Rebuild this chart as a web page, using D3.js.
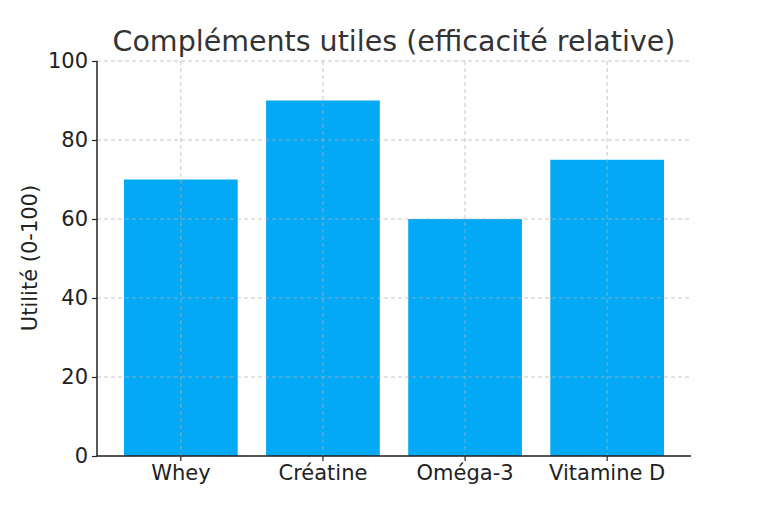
<!DOCTYPE html>
<html><head><meta charset="utf-8">
<script src="https://cdn.jsdelivr.net/npm/d3@7"></script>
<style>body{margin:0;background:#fff}svg{display:block}text{font-family:"DejaVu Sans",sans-serif}</style>
</head><body><svg id="c" width="768" height="512"></svg>
<script>
const categories = ["Whey", "Créatine", "Oméga-3", "Vitamine D"];
const values = [70, 90, 60, 75];
const yTicks = [0, 20, 40, 60, 80, 100];
const title = "Compléments utiles (efficacité relative)";
const yLabel = "Utilité (0-100)";

const svg = d3.select("#c");
const L = 97, R = 691, T = 61, B = 456;
const x = d3.scaleBand().domain(categories).range([L, R]).paddingInner(0.2).paddingOuter(0.19);
const y = d3.scaleLinear().domain([0, 100]).range([B, T]);

svg.append("g").selectAll("rect").data(values).join("rect")
  .attr("x", (d, i) => x(categories[i]))
  .attr("width", x.bandwidth())
  .attr("y", d => y(d))
  .attr("height", d => y(0) - y(d))
  .attr("fill", "#03A9F4");

const grid = svg.append("g").attr("stroke", "#b0b0b0").attr("stroke-opacity", 0.7)
  .attr("stroke-width", 1).attr("stroke-dasharray", "4,3");
grid.selectAll(".gy").data(yTicks).join("line")
  .attr("x1", L).attr("x2", R).attr("y1", d => y(d)).attr("y2", d => y(d));
grid.selectAll(".gx").data(categories).join("line")
  .attr("x1", d => x(d) + x.bandwidth() / 2).attr("x2", d => x(d) + x.bandwidth() / 2)
  .attr("y1", T).attr("y2", B);

const ya = svg.append("g").attr("transform", `translate(${L},0)`)
  .call(d3.axisLeft(y).tickValues(yTicks).tickSize(5).tickPadding(4));
const xa = svg.append("g").attr("transform", `translate(0,${B})`)
  .call(d3.axisBottom(x).tickSize(5).tickPadding(4));
[ya, xa].forEach(a => {
  a.select(".domain").attr("stroke", "#222").attr("stroke-width", 1.5);
  a.selectAll(".tick line").attr("stroke", "#222").attr("stroke-width", 1.2);
  a.selectAll("text").attr("font-size", 21).attr("fill", "#222").attr("font-family", "DejaVu Sans");
});
xa.select(".domain").attr("d", `M${L},0H${R}`);
ya.select(".domain").attr("d", `M0,${B}V${T}`);

svg.append("text").attr("x", (L + R) / 2).attr("y", 51).attr("text-anchor", "middle")
  .attr("font-size", 28.5).attr("fill", "#333").text(title);
svg.append("text").attr("transform", `translate(37,258) rotate(-90)`).attr("text-anchor", "middle")
  .attr("font-size", 21).attr("fill", "#222").text(yLabel);
</script></body></html>
